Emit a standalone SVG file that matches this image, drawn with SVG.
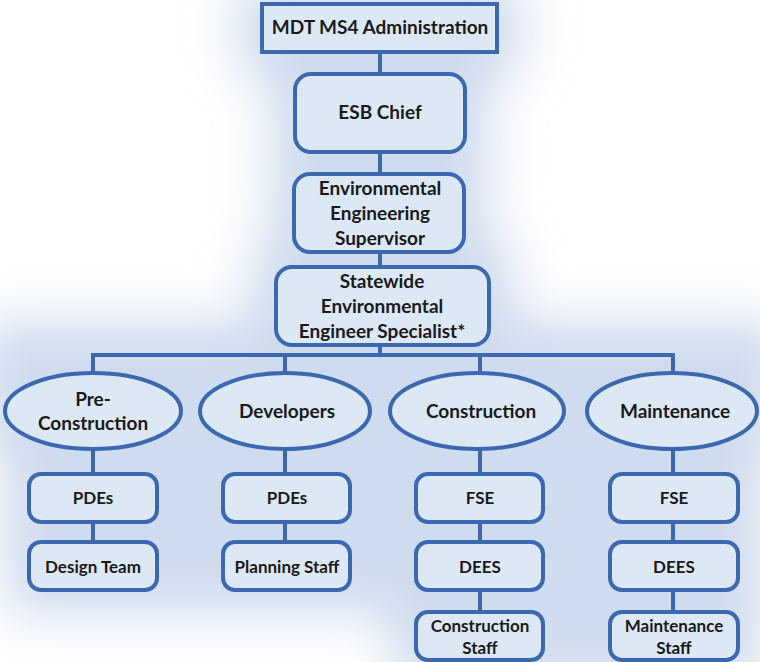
<svg xmlns="http://www.w3.org/2000/svg" width="760" height="662" viewBox="0 0 760 662">
  <defs>
    <style>
      .box { fill: #dde8f5; stroke: #3c68b0; stroke-width: 4; }
      .wire { fill: none; stroke: #3c68b0; stroke-width: 4; }
      .lbl { font-family: Lato, "Open Sans", "Liberation Sans", sans-serif; font-weight: 700; fill: #1a1a1a; text-anchor: middle; }
      .big { font-size: 19px; }
      .small { font-size: 17px; }
    </style>
    <filter id="halo" x="-30%" y="-30%" width="160%" height="160%">
      <feMorphology in="SourceAlpha" operator="dilate" radius="24" result="grow"/>
      <feGaussianBlur in="grow" stdDeviation="26" result="soft"/>
      <feFlood flood-color="#cfdbee" result="tint"/>
      <feComposite in="tint" in2="soft" operator="in"/>
    </filter>
  </defs>

  <rect width="760" height="662" fill="#ffffff"/>

  <!-- soft bluish glow behind the chart -->
  <g filter="url(#halo)" fill="#000">
    <rect x="262" y="4" width="235" height="48"/>
    <rect x="295" y="74" width="170" height="78"/>
    <rect x="294" y="174" width="170" height="78"/>
    <rect x="276" y="267" width="213" height="78"/>
    <rect x="5" y="345" width="755" height="40"/>
    <ellipse cx="93" cy="411" rx="88" ry="38"/>
    <ellipse cx="285" cy="411" rx="85" ry="38"/>
    <ellipse cx="477" cy="411" rx="87" ry="38"/>
    <ellipse cx="672" cy="411" rx="85" ry="38"/>
    <rect x="29" y="440" width="710" height="150"/>
    <rect x="416" y="474" width="322" height="188"/>
  </g>

  <!-- connectors -->
  <g id="connectors" class="wire">
    <line x1="380" y1="52" x2="380" y2="74"/>
    <line x1="380" y1="152" x2="380" y2="174"/>
    <line x1="380" y1="252" x2="380" y2="267"/>
    <line x1="380" y1="345" x2="380" y2="355"/>
    <polyline points="93,373 93,355 673,355 673,373"/>
    <line x1="285" y1="355" x2="285" y2="373"/>
    <line x1="480" y1="355" x2="480" y2="373"/>
    <line x1="93" y1="449" x2="93" y2="474"/>
    <line x1="285" y1="449" x2="285" y2="474"/>
    <line x1="480" y1="449" x2="480" y2="474"/>
    <line x1="673" y1="449" x2="673" y2="474"/>
    <line x1="93" y1="522" x2="93" y2="542"/>
    <line x1="285" y1="522" x2="285" y2="542"/>
    <line x1="480" y1="522" x2="480" y2="542"/>
    <line x1="673" y1="522" x2="673" y2="542"/>
    <line x1="480" y1="590" x2="480" y2="612"/>
    <line x1="673" y1="590" x2="673" y2="612"/>
  </g>

  <g id="admin">
    <rect class="box" x="262" y="4" width="235" height="48"/>
    <text class="lbl big" x="380" y="34">MDT MS4 Administration</text>
  </g>
  <g id="esb-chief">
    <rect class="box" x="295" y="74" width="170" height="78" rx="16"/>
    <text class="lbl big" x="380" y="119">ESB Chief</text>
  </g>
  <g id="env-supervisor">
    <rect class="box" x="294" y="174" width="170" height="78" rx="16"/>
    <text class="lbl big" x="380" y="195">Environmental</text>
    <text class="lbl big" x="380" y="220">Engineering</text>
    <text class="lbl big" x="380" y="245">Supervisor</text>
  </g>
  <g id="statewide-specialist">
    <rect class="box" x="276" y="267" width="213" height="78" rx="16"/>
    <text class="lbl big" x="382" y="288">Statewide</text>
    <text class="lbl big" x="382" y="313">Environmental</text>
    <text class="lbl big" x="382" y="338">Engineer Specialist*</text>
  </g>

  <g id="pre-construction">
    <ellipse class="box" cx="93" cy="411" rx="88" ry="38"/>
    <text class="lbl big" x="93" y="406">Pre-</text>
    <text class="lbl big" x="93" y="430">Construction</text>
  </g>
  <g id="developers">
    <ellipse class="box" cx="285" cy="411" rx="85" ry="38"/>
    <text class="lbl big" x="287" y="418">Developers</text>
  </g>
  <g id="construction">
    <ellipse class="box" cx="477" cy="411" rx="87" ry="38"/>
    <text class="lbl big" x="481" y="418">Construction</text>
  </g>
  <g id="maintenance">
    <ellipse class="box" cx="672" cy="411" rx="85" ry="38"/>
    <text class="lbl big" x="675" y="418">Maintenance</text>
  </g>

  <g id="pdes-1">
    <rect class="box" x="29" y="474" width="128" height="48" rx="12"/>
    <text class="lbl small" x="93" y="504">PDEs</text>
  </g>
  <g id="design-team">
    <rect class="box" x="29" y="542" width="128" height="48" rx="12"/>
    <text class="lbl small" x="93" y="573">Design Team</text>
  </g>
  <g id="pdes-2">
    <rect class="box" x="223" y="474" width="127" height="48" rx="12"/>
    <text class="lbl small" x="287" y="504">PDEs</text>
  </g>
  <g id="planning-staff">
    <rect class="box" x="223" y="542" width="127" height="48" rx="12"/>
    <text class="lbl small" x="287" y="573">Planning Staff</text>
  </g>
  <g id="fse-1">
    <rect class="box" x="416" y="474" width="127" height="48" rx="12"/>
    <text class="lbl small" x="480" y="504">FSE</text>
  </g>
  <g id="dees-1">
    <rect class="box" x="416" y="542" width="127" height="48" rx="12"/>
    <text class="lbl small" x="480" y="573">DEES</text>
  </g>
  <g id="construction-staff">
    <rect class="box" x="416" y="612" width="127" height="48" rx="12"/>
    <text class="lbl small" x="480" y="632">Construction</text>
    <text class="lbl small" x="480" y="654">Staff</text>
  </g>
  <g id="fse-2">
    <rect class="box" x="610" y="474" width="128" height="48" rx="12"/>
    <text class="lbl small" x="674" y="504">FSE</text>
  </g>
  <g id="dees-2">
    <rect class="box" x="610" y="542" width="128" height="48" rx="12"/>
    <text class="lbl small" x="674" y="573">DEES</text>
  </g>
  <g id="maintenance-staff">
    <rect class="box" x="610" y="612" width="128" height="48" rx="12"/>
    <text class="lbl small" x="674" y="632">Maintenance</text>
    <text class="lbl small" x="674" y="654">Staff</text>
  </g>
</svg>
